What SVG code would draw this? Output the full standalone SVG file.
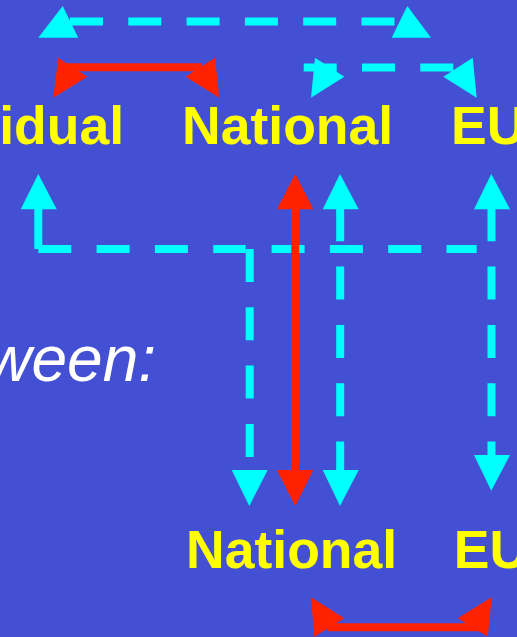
<svg xmlns="http://www.w3.org/2000/svg" width="517" height="637" viewBox="0 0 517 637">
<style>
.bg{fill:#4450D4}
.lbl{font-family:"Liberation Sans",Arial,sans-serif;font-weight:bold;font-size:53.5px;fill:#FFFF00}
.cap{font-family:"Liberation Sans",Arial,sans-serif;font-style:italic;font-size:64px;fill:#FFFFFF}
.cy{stroke:#00FFFF;stroke-width:8;fill:none;stroke-dasharray:33 25.3}
.cys{stroke:#00FFFF;stroke-width:8;fill:none}
.cyh{fill:#00FFFF}
.rd{stroke:#FF2200;stroke-width:8;fill:none}
.rdh{fill:#FF2200}
</style>
<rect class="bg" x="0" y="0" width="517" height="637"/>
<g id="connectors">
  <!-- top: Individual <-> EU -->
  <line class="cy" x1="70" y1="21.5" x2="400" y2="21.5"/>
  <polygon class="cyh" points="62.7,6 38.3,37.7 78.3,37.7"/>
  <polygon class="cyh" points="407.3,6 391.7,37.7 431,37.7"/>
  <!-- top: Individual <-> National (red) -->
  <line class="rd" x1="66.7" y1="67.2" x2="201.7" y2="67.2"/>
  <polygon class="rdh" points="58.3,57.7 53.3,97.7 87.3,76.7"/>
  <polygon class="rdh" points="215,57.7 219.3,97.7 185.7,76.7"/>
  <!-- top: National <-> EU -->
  <line class="cy" x1="303.7" y1="67.5" x2="453.3" y2="67.5"/>
  <polygon class="cyh" points="315,57.7 311,97.7 344.3,76.7"/>
  <polygon class="cyh" points="472.7,57.7 476.7,97.7 443.3,76.7"/>
  <!-- Individual elbow connectors -->
  <polygon class="cyh" points="38.3,174 20.7,209.3 56.7,209.3"/>
  <line class="cys" x1="38.3" y1="209" x2="38.3" y2="249"/>
  <line class="cy" x1="38.3" y1="249" x2="245.7" y2="249"/>
  <line class="cy" x1="271.6" y1="249" x2="476.7" y2="249"/>
  <line class="cy" x1="249.7" y1="249" x2="249.7" y2="470"/>
  <polygon class="cyh" points="231.7,470 267.7,470 249.3,506"/>
  <!-- National <-> National (red) -->
  <line class="rd" x1="295.2" y1="209" x2="295.2" y2="471"/>
  <polygon class="rdh" points="295.3,174 277,209.3 313.3,209.3"/>
  <polygon class="rdh" points="277,470 313.3,470 295.3,506"/>
  <!-- National <-> EU/National (cyan) -->
  <polygon class="cyh" points="340,174 322.7,209.3 358.7,209.3"/>
  <line class="cy" x1="340.2" y1="208.3" x2="340.2" y2="471"/>
  <polygon class="cyh" points="322.7,470 358.7,470 340,506"/>
  <!-- EU <-> EU -->
  <polygon class="cyh" points="491.3,174 474,209.3 510,209.3"/>
  <line class="cy" x1="491.5" y1="208.3" x2="491.5" y2="456"/>
  <polygon class="cyh" points="474,455 510,455 491.3,490.7"/>
  <!-- bottom: National <-> EU (red) -->
  <line class="rd" x1="328" y1="627.2" x2="478" y2="627.2"/>
  <polygon class="rdh" points="311,597.3 314.3,636.7 344.3,618.3"/>
  <polygon class="rdh" points="491.7,597.3 487.7,636.7 457.7,618.3"/>
</g>
<g id="node-individual"><text class="lbl" x="124" y="144.3" text-anchor="end">idual</text></g>
<g id="node-national-top"><text class="lbl" x="182.1" y="144.3">National</text></g>
<g id="node-eu-top"><text class="lbl" x="451" y="144.3">EU</text></g>
<g id="node-national-bottom"><text class="lbl" x="186.1" y="568.3">National</text></g>
<g id="node-eu-bottom"><text class="lbl" x="453.8" y="568.3">EU</text></g>
<g id="caption"><text class="cap" x="156" y="381" text-anchor="end">ween:</text></g>
</svg>
